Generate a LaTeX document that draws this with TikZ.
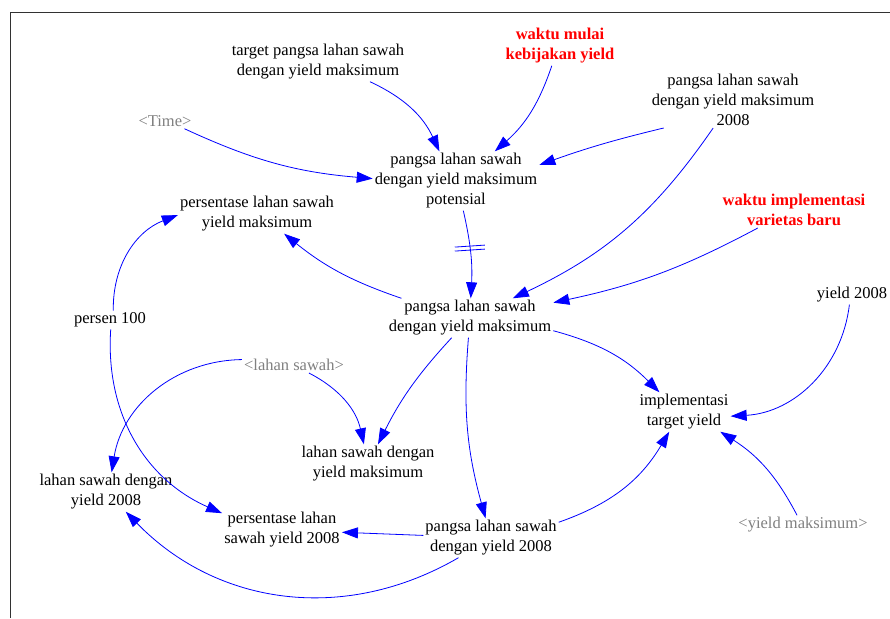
\documentclass[tikz,border=0pt]{standalone}
\usepackage{fontspec}
\setmainfont{Liberation Serif}
\usetikzlibrary{arrows.meta}
\definecolor{linkblue}{RGB}{0,0,255}
\definecolor{shadowgray}{RGB}{128,128,128}
\definecolor{framegray}{RGB}{50,50,50}
\begin{document}
\begin{tikzpicture}[x=1pt,y=1pt,
  every node/.style={font=\fontsize{16.5}{20}\selectfont,align=center,inner sep=2pt},
  shadowvar/.style={text=shadowgray},
  keyvar/.style={text=red,font=\fontsize{16.5}{20}\selectfont\bfseries},
  link/.style={draw=linkblue,line width=0.8pt,-{Triangle[length=16pt,width=11pt]}}]
\useasboundingbox (0,0) rectangle (890,618);
\draw[framegray,line width=1pt] (10,0) -- (10,605) -- (890,605);
% variabel
\node (target) at (318,556) {target pangsa lahan sawah\\dengan yield maksimum};
\node[keyvar] (mulai) at (560,572) {waktu mulai\\kebijakan yield};
\node (awal) at (733,518) {pangsa lahan sawah\\dengan yield maksimum\\2008};
\node[shadowvar] (time) at (165,497) {\textless Time\textgreater};
\node (potensial) at (456,437) {pangsa lahan sawah\\dengan yield maksimum\\potensial};
\node (persenmax) at (257,404) {persentase lahan sawah\\yield maksimum};
\node[keyvar] (varietas) at (794,408) {waktu implementasi\\varietas baru};
\node (pangsa) at (470,300) {pangsa lahan sawah\\dengan yield maksimum};
\node (persen) at (110,298) {persen 100};
\node (yieldawal) at (852,323) {yield 2008};
\node[shadowvar] (lahan) at (294,253) {\textless lahan sawah\textgreater};
\node (impl) at (684,206) {implementasi\\target yield};
\node (lahanmax) at (368,154) {lahan sawah dengan\\yield maksimum};
\node (lahanawal) at (106,126) {lahan sawah dengan\\yield 2008};
\node (persenawal) at (282,88) {persentase lahan\\sawah yield 2008};
\node (pangsaawal) at (491,80) {pangsa lahan sawah\\dengan yield 2008};
\node[shadowvar] (ymaks) at (803,93) {\textless yield maksimum\textgreater};
% panah
\draw[link] (target) to[bend left=20] (potensial);
\draw[link] (mulai) to[bend left=15] (potensial);
\draw[link] ([xshift=14pt]awal.south west) to[bend right=3] ([yshift=16pt]potensial.east);
\draw[link] (time) to[bend right=10] (potensial);
\draw[link] (potensial) to[bend left=8] coordinate[pos=0.4] (tunda) (pangsa);
\draw[linkblue,line width=0.8pt] ([shift={(-15,-1)}]tunda) -- ([shift={(15,1)}]tunda)
  ([shift={(-15,-5)}]tunda) -- ([shift={(15,-3)}]tunda);
\draw[link] (pangsa) to[bend left=10] (persenmax);
\draw[link] (persen) to[bend left=35] (persenmax);
\draw[link] (persen) to[bend right=35] (persenawal);
\draw[link] (lahan) to[bend right=40] (lahanawal);
\draw[link] (lahan) to[bend left=25] (lahanmax);
\draw[link] (pangsa) to[bend right=8] (lahanmax);
\draw[link] (pangsa) to[bend left=15] (impl);
\draw[link] (pangsa) to[bend right=10] (pangsaawal);
\draw[link] (varietas) to[bend left=8] (pangsa);
\draw[link] (awal) to[bend left=15] (pangsa);
\draw[link] (yieldawal) to[bend left=40] (impl);
\draw[link] (ymaks) to[bend right=15] (impl);
\draw[link] (pangsaawal) to[bend right=20] (impl);
\draw[link] (pangsaawal) -- (persenawal);
\draw[link] (pangsaawal) to[bend left=38] (lahanawal);
\end{tikzpicture}
\end{document}
